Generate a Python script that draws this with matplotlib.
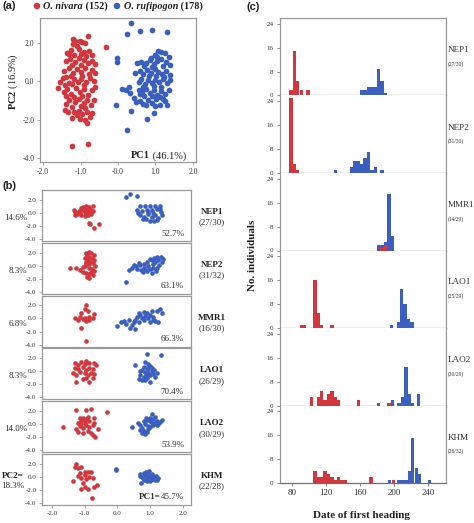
import matplotlib
matplotlib.use("Agg")
import matplotlib.pyplot as plt

# ---------------- data ----------------
# Panel (a): PCA of all accessions (PC1, PC2)
a_nivara = [(-1.21,2.22),(-0.79,2.37),(-1.16,2.08),(-1.02,2.09),(-0.95,2.05),(-0.89,2.02),(-1.20,1.93),(-1.10,1.85),(-0.32,1.80),
            (-1.25,1.62),(-1.05,1.70),(-0.90,1.55),(-0.77,1.60),(-1.30,1.40),(-1.18,1.35),(-0.98,1.42),(-0.85,1.30),(-0.68,1.35),(-1.36,1.50),
            (-1.40,1.05),(-1.28,1.15),(-1.15,1.00),(-1.05,1.20),(-0.92,1.10),(-0.80,0.95),(-0.70,1.05),(-1.22,0.85),(-0.98,0.85),(-0.62,0.90),
            (-1.45,0.55),(-1.32,0.70),(-1.20,0.45),(-1.10,0.65),(-1.00,0.50),(-0.88,0.70),(-0.78,0.40),(-0.70,0.60),(-1.25,0.30),(-0.95,0.30),(-0.60,0.45),
            (-1.60,-0.35),(-1.55,-0.05),(-1.48,0.15),(-1.38,0.20),(-1.30,-0.10),(-1.18,0.10),(-1.08,-0.05),(-0.98,0.12),(-0.86,-0.02),(-0.75,0.15),(-0.65,0.00),(-1.42,-0.20),(-1.22,-0.15),(-0.92,-0.18),
            (-1.45,-0.55),(-1.35,-0.40),(-1.25,-0.65),(-1.12,-0.35),(-1.02,-0.55),(-0.90,-0.40),(-0.80,-0.70),(-0.70,-0.45),(-1.18,-0.80),(-0.95,-0.75),(-1.38,-0.75),(-0.60,-0.30),
            (-1.30,-1.00),(-1.15,-1.10),(-1.05,-0.95),(-0.92,-1.15),(-0.82,-1.00),(-0.72,-1.25),(-1.22,-1.35),(-1.00,-1.30),(-0.88,-1.40),(-1.40,-1.20),(-0.65,-1.00),
            (-1.42,-1.48),(-1.33,-1.58),(-1.18,-1.62),(-1.05,-1.55),(-0.95,-1.70),(-0.82,-1.60),(-0.68,-1.65),(-1.22,-1.92),(-1.02,-1.95),(-0.88,-2.02),(-0.83,-2.18),(-0.75,-1.88),(-1.10,-1.78),
            (-1.24,-3.38),(-0.80,-3.25)]
a_rufipogon = [(0.36,3.02),(0.25,2.45),(0.58,2.62),(0.90,2.70),(1.31,2.58),(-0.02,1.22),(-0.03,0.98),(0.10,-0.38),(0.22,-0.45),(0.32,-0.62),
               (-0.05,-1.22),(0.36,-1.55),(0.24,-2.55),(0.77,-1.95),(0.52,0.97),(0.42,-0.85),(0.48,-1.10),(0.30,-0.28),(0.45,0.45),
               (0.98,1.35),(1.08,1.60),(1.15,1.55),(1.25,1.45),(1.35,1.25),(0.88,1.22),(1.05,1.25),
               (0.62,1.00),(0.75,0.95),(0.85,1.10),(0.95,0.90),(1.05,1.05),(1.15,1.15),(1.28,1.00),(1.38,0.85),(0.70,0.78),(1.20,0.80),(0.90,0.75),
               (0.58,0.55),(0.68,0.40),(0.78,0.60),(0.88,0.45),(0.98,0.62),(1.08,0.50),(1.18,0.40),(1.28,0.55),(1.40,0.35),(0.82,0.25),(1.02,0.28),(1.22,0.22),
               (0.55,-0.05),(0.62,0.10),(0.72,-0.15),(0.80,0.05),(0.90,-0.10),(1.00,0.08),(1.10,-0.05),(1.20,0.12),(1.32,-0.10),(1.40,0.05),(0.66,-0.28),(0.95,-0.25),(1.15,-0.28),
               (0.55,-0.45),(0.65,-0.55),(0.75,-0.40),(0.85,-0.62),(0.95,-0.48),(1.05,-0.70),(1.15,-0.50),(1.25,-0.65),(1.35,-0.45),(0.70,-0.75),(0.90,-0.78),(1.12,-0.80),(0.60,-0.65),
               (0.58,-1.05),(0.68,-1.20),(0.80,-1.00),(0.92,-1.15),(1.02,-0.95),(1.12,-1.22),(1.25,-1.05),(1.30,-1.25),(0.75,-1.25),(1.00,-1.30),(0.97,-1.65),(1.20,-0.90)]
a_nivara_label = "(152)"
a_rufipogon_label = "(178)"

# Panel (b): PCA per population
populations = ["NEP1", "NEP2", "MMR1", "LAO1", "LAO2", "KHM"]
b_counts = ["(27/30)", "(31/32)", "(16/30)", "(26/29)", "(30/29)", "(22/28)"]
b_pc2 = ["14.6%", "8.3%", "6.8%", "8.3%", "14.0%", "18.3%"]
b_pc1 = ["52.7%", "63.1%", "66.3%", "70.4%", "53.9%", "45.7%"]

nep1_nivara = [(-1.32,0.40),(-1.28,0.15),(-1.22,-0.10),(-1.30,-0.30),(-1.15,0.05),(-1.05,0.95),(-0.95,1.05),(-0.85,0.95),(-0.75,1.05),
               (-1.05,0.50),(-1.00,0.20),(-0.90,0.35),(-0.95,-0.15),(-0.85,0.05),(-0.80,0.50),(-0.90,-0.40),(-0.80,-0.20),(-1.10,0.70),
               (-1.00,-0.45),(-0.88,-1.50),(-0.82,-1.70),(-0.72,-2.25),(-0.57,-1.75),(-1.18,0.30),(-0.75,0.30),(-1.12,-0.35),(-0.95,0.60)]
nep1_rufipogon = [(0.26,2.40),(0.38,2.95),(0.61,2.55),(0.70,1.10),(0.85,1.00),(1.00,1.10),(1.15,1.00),(1.30,1.10),(0.62,0.00),(0.75,0.30),
                  (0.90,0.50),(1.05,0.40),(1.20,0.55),(1.32,0.20),(0.70,-0.30),(0.82,-0.60),(0.95,-0.20),(1.05,-0.70),(1.15,-0.40),(1.25,-0.80),
                  (1.35,-0.30),(0.88,-1.00),(1.00,-1.20),(1.12,-1.30),(1.22,-1.10),(0.78,-0.90),(1.30,0.60),(0.95,0.10),(1.10,0.05),(0.60,0.50)]
nep2_nivara = [(-1.45,-0.40),(-1.25,-0.40),(-1.15,-0.70),(-1.05,-0.20),(-0.95,2.00),(-0.88,2.05),(-0.80,1.95),(-0.92,1.60),(-0.85,1.30),
               (-0.78,1.10),(-0.90,0.90),(-0.82,0.60),(-0.72,0.80),(-0.95,0.30),(-0.85,0.20),(-0.75,0.40),(-0.68,0.00),(-1.00,-0.10),
               (-0.88,-0.30),(-0.78,-0.50),(-0.70,-0.80),(-1.05,-0.90),(-0.95,-1.10),(-0.85,-1.30),(-0.80,-1.00),(-0.92,-1.70),
               (-0.85,-1.90),(-0.70,1.60),(-1.00,1.20),(-0.75,-1.50),(-0.95,0.60)]
nep2_rufipogon = [(0.25,-2.55),(0.35,-0.70),(0.50,0.10),(0.45,-0.40),(0.58,-0.10),(0.60,-0.45),(0.70,0.05),(0.72,-0.60),(0.80,0.30),
                  (0.82,-0.30),(0.90,-0.80),(0.92,0.60),(0.95,0.00),(1.00,-0.50),(1.05,0.80),(1.08,0.20),(1.10,-0.30),(1.12,1.20),
                  (1.15,0.50),(1.18,-0.80),(1.20,1.40),(1.25,0.90),(1.28,0.10),(1.32,1.30),(1.35,0.60),(1.05,-1.10),(0.85,-0.50),
                  (1.40,1.00),(1.00,1.00),(0.65,0.40),(0.78,-1.00),(1.22,-0.40)]
mmr1_nivara = [(-1.30,0.00),(-1.20,-0.30),(-1.15,0.20),(-1.05,-0.10),(-1.00,0.00),(-0.95,2.00),(-1.00,1.50),(-0.90,1.10),(-0.85,0.30),
               (-1.10,0.80),(-0.75,0.00),(-0.70,0.70),(-0.95,-0.40),(-1.10,-1.50),(-0.95,-3.40),(-0.85,-0.20)]
mmr1_rufipogon = [(0.00,-1.20),(0.10,-0.60),(0.20,-0.40),(0.25,-0.80),(0.35,-0.30),(0.40,-1.40),(0.45,-1.00),(0.50,-0.50),(0.55,-0.20),
                  (0.55,-1.60),(0.60,0.20),(0.65,-0.60),(0.70,0.60),(0.75,0.00),(0.80,1.00),(0.80,-0.30),(0.85,0.40),(0.90,0.90),
                  (0.95,0.10),(1.00,0.60),(1.05,1.10),(1.10,-0.20),(1.10,0.30),(1.15,-0.40),(1.20,1.20),(1.25,-0.60),(1.30,1.50),
                  (1.35,0.80),(0.65,0.90),(1.00,-0.50)]
lao1_nivara = [(-1.30,1.30),(-1.20,1.00),(-1.10,1.40),(-1.00,1.10),(-0.95,1.50),(-0.85,1.20),(-0.70,1.20),(-0.65,0.90),(-1.30,0.50),
               (-1.20,0.30),(-1.05,0.60),(-0.95,0.20),(-0.85,0.50),(-0.75,0.40),(-1.35,-0.30),(-1.25,-0.50),(-1.15,-0.10),(-1.00,-0.30),
               (-0.90,-0.60),(-0.80,-0.20),(-0.70,-0.40),(-1.25,-1.60),(-1.05,-1.20),(-0.95,-1.00),(-0.85,-1.60),(-0.75,-1.10)]
lao1_rufipogon = [(0.55,1.00),(0.92,2.65),(1.32,2.55),(0.85,1.40),(0.95,1.10),(0.80,0.70),(0.90,0.50),(1.00,0.80),(0.75,0.20),(0.85,-0.10),
                  (0.95,0.30),(1.05,0.00),(1.10,-0.40),(1.20,-0.30),(0.70,-0.50),(0.80,-0.80),(0.90,-1.00),(1.00,-0.60),(0.75,-1.30),
                  (0.85,-1.40),(1.00,-1.60),(0.65,-1.20),(1.15,-0.90),(0.95,-0.20),(0.70,0.00),(0.88,-0.50),(1.05,0.50),(0.80,-1.10),(1.12,0.20)]
lao2_nivara = [(-1.65,-0.40),(-1.25,2.20),(-0.95,2.10),(-0.80,2.30),(-0.30,1.80),(-1.20,0.20),(-1.15,0.90),(-1.05,1.00),(-1.00,0.60),
               (-0.95,0.80),(-0.90,1.10),(-0.85,0.40),(-1.10,0.40),(-1.00,0.20),(-0.70,1.00),(-0.70,0.20),(-1.25,-0.80),(-1.15,-0.30),
               (-1.05,-0.60),(-0.95,-0.10),(-0.85,-0.40),(-0.75,-0.20),(-1.20,-1.20),(-1.05,-1.40),(-0.90,-1.00),(-0.80,-1.30),
               (-0.75,-1.60),(-0.68,-2.00),(-1.10,0.00),(-0.60,-0.80)]
lao2_rufipogon = [(0.45,-0.50),(0.62,0.20),(0.70,-0.20),(0.75,-0.60),(0.80,0.40),(0.85,0.00),(0.90,0.60),(0.95,-0.30),(1.00,1.00),
                  (1.05,1.50),(1.10,0.80),(1.15,0.20),(1.20,0.50),(1.25,0.00),(1.30,0.30),(1.35,0.60),(0.80,-1.00),(0.85,-1.50),
                  (0.90,-1.20),(0.95,-0.80),(1.00,-0.40),(1.05,0.10),(1.10,-0.20),(0.75,-1.30),(1.15,1.10),(0.88,0.90),(1.20,-0.10),
                  (0.70,-0.90),(1.00,0.40)]
khm_nivara = [(-1.25,2.00),(-1.30,1.50),(-1.20,1.30),(-1.10,1.50),(-1.00,0.80),(-0.90,0.70),(-0.80,0.80),(-1.20,0.20),(-1.10,-0.10),
              (-1.00,0.30),(-0.95,-0.30),(-0.85,0.00),(-0.75,-0.10),(-1.35,-0.60),(-1.10,-1.80),(-1.00,-1.50),(-0.90,-1.80),
              (-0.70,-1.60),(-0.62,-1.25),(-0.78,-3.20),(-1.15,0.60),(-1.05,-1.00)]
khm_rufipogon = [(-0.05,1.10),(-0.03,1.25),(0.68,0.40),(0.72,-0.90),(0.75,0.00),(0.80,-0.40),(0.85,0.30),(0.88,0.80),(0.90,-0.20),
                 (0.95,0.50),(1.00,0.00),(1.00,-0.70),(1.05,0.40),(1.08,-0.30),(1.10,0.20),(1.15,-0.50),(1.18,0.10),(1.22,-0.20),
                 (1.25,-0.10),(0.70,0.20),(0.92,-0.60),(0.98,0.90),(1.12,-0.10),(0.82,0.60),(1.20,-0.40),(0.78,-0.20),(1.05,-0.30),(0.95,0.20)]

b_nivara = [nep1_nivara, nep2_nivara, mmr1_nivara, lao1_nivara, lao2_nivara, khm_nivara]
b_rufipogon = [nep1_rufipogon, nep2_rufipogon, mmr1_rufipogon, lao1_rufipogon, lao2_rufipogon, khm_rufipogon]

# Panel (c): histograms of date of first heading (bin left edge in days, count)
c_counts = ["(27/30)", "(31/30)", "(14/29)", "(25/29)", "(30/29)", "(26/32)"]
bin_width = 3.9
nep1_nivara_days = [77, 81, 85, 89, 97];               nep1_nivara_n = [2, 15, 5, 2, 2]
nep1_rufipogon_days = [160, 164, 168, 172, 176, 180, 184, 188]; nep1_rufipogon_n = [2, 2, 3, 3, 3, 9, 5, 1]
nep2_nivara_days = [77, 81, 85];                       nep2_nivara_n = [25, 3, 1]
nep2_rufipogon_days = [129, 148, 152, 156, 160, 164, 168, 172, 176, 184]; nep2_rufipogon_n = [1, 2, 4, 4, 3, 5, 7, 1, 2, 1]
mmr1_nivara_days = [184, 188];                         mmr1_nivara_n = [1, 2]
mmr1_rufipogon_days = [180, 184, 188, 192, 196];       mmr1_rufipogon_n = [2, 2, 3, 19, 5]
lao1_nivara_days = [89, 93, 105, 109, 113, 125];       lao1_nivara_n = [1, 1, 16, 5, 1, 1]
lao1_rufipogon_days = [195, 203, 207, 211, 215, 219];  lao1_rufipogon_n = [1, 2, 13, 8, 3, 2]
lao2_nivara_days = [101, 109, 113, 117, 121, 125, 129, 133, 156, 192]; lao2_nivara_n = [3, 3, 5, 2, 4, 5, 3, 2, 2, 1]
lao2_rufipogon_days = [180, 196, 204, 208, 212, 216, 220, 227]; lao2_rufipogon_n = [1, 2, 1, 3, 13, 4, 1, 4]
khm_nivara_days = [105, 109, 113, 117, 121, 125, 129, 133, 137, 141, 171, 197]; khm_nivara_n = [4, 2, 2, 4, 3, 2, 1, 2, 1, 1, 2, 1]
khm_rufipogon_days = [193, 204, 208, 212, 216, 220, 224, 228, 240]; khm_rufipogon_n = [1, 1, 1, 1, 4, 15, 5, 3, 1]

c_nivara = [(nep1_nivara_days, nep1_nivara_n), (nep2_nivara_days, nep2_nivara_n), (mmr1_nivara_days, mmr1_nivara_n),
            (lao1_nivara_days, lao1_nivara_n), (lao2_nivara_days, lao2_nivara_n), (khm_nivara_days, khm_nivara_n)]
c_rufipogon = [(nep1_rufipogon_days, nep1_rufipogon_n), (nep2_rufipogon_days, nep2_rufipogon_n), (mmr1_rufipogon_days, mmr1_rufipogon_n),
               (lao1_rufipogon_days, lao1_rufipogon_n), (lao2_rufipogon_days, lao2_rufipogon_n), (khm_rufipogon_days, khm_rufipogon_n)]
c_xticks = [80, 120, 160, 200, 240]
c_yticks = [0, 8, 16, 24]

# ---------------- style ----------------
W, H = 474, 523
RED = '#d2363f'
BLUE = '#3a5fbf'
SPINE = '#9a9a9a'
TXT = '#333333'
DARK = '#222222'
SERIF = ['Liberation Serif', 'DejaVu Serif']
SANS = ['Liberation Sans', 'DejaVu Sans']
plt.rcParams['font.family'] = SERIF
plt.rcParams['mathtext.fontset'] = 'custom'
plt.rcParams['mathtext.rm'] = 'Liberation Serif'
plt.rcParams['mathtext.bf'] = 'Liberation Serif:bold'

fig = plt.figure(figsize=(W / 100, H / 100), dpi=100)
renderer = fig.canvas.get_renderer()


def rect(left, top, right, bottom):
    return [left / W, 1 - bottom / H, (right - left) / W, (bottom - top) / H]


def style_spines(ax, color=SPINE, lw=0.9):
    for s in ax.spines.values():
        s.set_color(color)
        s.set_linewidth(lw)


def xy(points):
    return [p[0] for p in points], [p[1] for p in points]


# overlay axes in pixel coordinates (top-left origin) for free texts
ov = fig.add_axes([0, 0, 1, 1], zorder=10)
ov.set_xlim(0, W)
ov.set_ylim(H, 0)
ov.axis('off')
ov.patch.set_alpha(0)


def text_width(t):
    return t.get_window_extent(renderer=renderer).width


def chain(x, y, parts, **kw):
    for s, extra in parts:
        opts = dict(kw)
        opts.update(extra)
        t = ov.text(x, y, s, ha='left', va='center', **opts)
        x += text_width(t)
    return x


def chain_right(xr, y, parts, **kw):
    for s, extra in reversed(parts):
        opts = dict(kw)
        opts.update(extra)
        t = ov.text(xr, y, s, ha='right', va='center', **opts)
        xr -= text_width(t)


# ---------------- panel (a) ----------------
ax = fig.add_axes(rect(40, 18, 196, 162))
x, y = xy(a_nivara)
ax.scatter(x, y, s=17, c=RED, linewidths=0)
x, y = xy(a_rufipogon)
ax.scatter(x, y, s=17, c=BLUE, linewidths=0)
ax.set_xlim(-2.08, 2.08)
ax.set_ylim(-4.21, 3.30)
ax.set_xticks([-2, -1, 0, 1, 2])
ax.set_xticklabels(['-2.0', '-1.0', '-0.0', '1.0', '2.0'])
ax.set_yticks([2, 0, -2, -4])
ax.set_yticklabels(['2.0', '0.0', '-2.0', '-4.0'])
ax.tick_params(labelsize=5.5, length=2, width=0.6, color=SPINE, labelcolor=TXT, pad=2)
style_spines(ax)

# ---------------- panel (b) ----------------
b_top0, b_h, b_step = 190, 51, 52.8
for i, pop in enumerate(populations):
    top = b_top0 + i * b_step
    bx = fig.add_axes(rect(42, top, 191, top + b_h))
    x, y = xy(b_nivara[i])
    bx.scatter(x, y, s=11, c=RED, linewidths=0)
    x, y = xy(b_rufipogon[i])
    bx.scatter(x, y, s=11, c=BLUE, linewidths=0)
    bx.set_xlim(-2.3, 2.25)
    bx.set_ylim(-4.3, 3.5)
    bx.set_yticks([2, 0, -2, -4])
    bx.set_yticklabels(['2.0', '0.0', '-2.0', '-4.0'])
    if i == len(populations) - 1:
        bx.set_xticks([-2, -1, 0, 1, 2])
        bx.set_xticklabels(['-2.0', '-1.0', '0.0', '1.0', '2.0'])
    else:
        bx.set_xticks([])
    bx.tick_params(labelsize=5, length=2, width=0.6, color=SPINE, labelcolor=TXT, pad=2)
    style_spines(bx)
    if i < len(populations) - 1:
        chain_right(184, top + 43.5, [(b_pc1[i], {})], fontsize=6.5, color=TXT)
        ov.text(27, top + 28, b_pc2[i], ha='right', va='center', fontsize=6.5, color=TXT)
    else:
        chain_right(184, top + 43, [('PC1=', {'fontweight': 'bold'}), (b_pc1[i], {})], fontsize=6.5, color=TXT)
        ov.text(13, top + 22, 'PC2=', ha='center', va='center', fontsize=6.5, color=DARK, fontweight='bold')
        ov.text(13, top + 32, b_pc2[i], ha='center', va='center', fontsize=6.5, color=TXT)
    ov.text(212, top + 22, pop, ha='center', va='center', fontsize=6.5, color=DARK, fontweight='bold')
    ov.text(212, top + 32.5, b_counts[i], ha='center', va='center', fontsize=6.5, color=TXT)

# ---------------- panel (c) ----------------
c_top0, c_h = 18, 77.5
for i, pop in enumerate(populations):
    top = c_top0 + i * c_h
    cx = fig.add_axes(rect(280, top, 446, top + c_h))
    d, n = c_rufipogon[i]
    cx.bar(d, n, width=bin_width, align='edge', color=BLUE, linewidth=0)
    d, n = c_nivara[i]
    cx.bar(d, n, width=bin_width, align='edge', color=RED, linewidth=0)
    cx.set_xlim(66, 261)
    cx.set_ylim(0, 26)
    cx.set_yticks(c_yticks)
    cx.set_yticklabels([str(v) for v in c_yticks])
    if i == len(populations) - 1:
        cx.set_xticks(c_xticks)
        cx.set_xticklabels([str(v) for v in c_xticks])
        cx.tick_params(axis='x', labelsize=6.5)
    else:
        cx.set_xticks([])
    cx.tick_params(axis='y', labelsize=5)
    cx.tick_params(length=2.5, width=0.6, color='#777777', labelcolor=TXT, pad=2)
    style_spines(cx)
    cx.spines['bottom'].set_color('#707070')
    if i > 0:
        cx.spines['top'].set_visible(False)
    ov.text(447.5, top + 32, pop, ha='left', va='center', fontsize=6.6, color=TXT)
    ov.text(447.5, top + 46, c_counts[i], ha='left', va='center', fontsize=4, color=TXT)

# ---------------- overlay texts ----------------
# legend
ov.scatter([37, 117], [6, 6], s=22, c=[RED, BLUE], linewidths=0)
chain(43, 6.5, [('O. nivara', {'fontstyle': 'italic'}), (' ' + a_nivara_label, {})],
      fontsize=7.3, fontweight='bold', color=DARK)
chain(124, 6.5, [('O. rufipogon', {'fontstyle': 'italic'}), (' ' + a_rufipogon_label, {})],
      fontsize=7.3, fontweight='bold', color=DARK)

# panel labels
ov.text(3, 6, '(a)', fontsize=8, fontweight='bold', family=SANS, va='center', ha='left', color=DARK)
ov.text(3, 186, '(b)', fontsize=8, fontweight='bold', family=SANS, va='center', ha='left', color=DARK)
ov.text(247, 7, '(c)', fontsize=8, fontweight='bold', family=SANS, va='center', ha='left', color=DARK)

# panel (a) axis titles
ov.text(13, 82, r'$\mathbf{PC2}$ (16.9%)', rotation=90, fontsize=7.5, va='center', ha='center', color=DARK)
chain_right(186, 156, [('PC1', {'fontweight': 'bold'}), (' (46.1%)', {})], fontsize=7.5, color=DARK)

# panel (c) axis titles
ov.text(253, 255, 'No. individuals', rotation=90, fontsize=8, fontweight='bold', va='center', ha='center', color=DARK)
ov.text(362, 515, 'Date of first heading', fontsize=8, fontweight='bold', va='center', ha='center', color=DARK)

fig.savefig('out.png', dpi=100)
